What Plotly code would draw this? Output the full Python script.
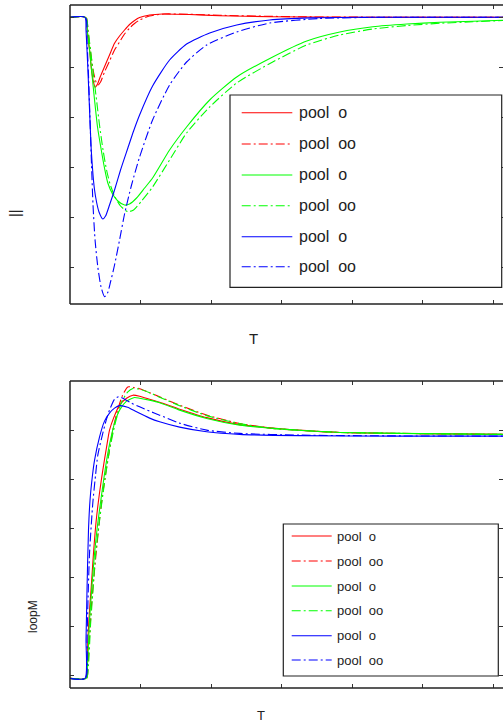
import plotly.graph_objects as go

# ---------------- data ----------------
names = ["pool  o", "pool  oo", "pool  o", "pool  oo", "pool  o", "pool  oo"]
colors = ["#ff0000", "#ff0000", "#00ff00", "#00ff00", "#0000ff", "#0000ff"]
dashes = ["solid", "dashdot", "solid", "dashdot", "solid", "dashdot"]

# top panel ("||")
top_red_o_t = [0, 2.20, 2.48, 2.77, 3.05, 3.33, 3.57, 3.90, 4.33, 4.89, 5.60, 6.31, 7.02, 7.73, 8.44, 9.15, 9.86, 11.28, 13.12, 16.95, 21.21, 28.30, 39.65, 61.35]
top_red_o_v = [0, 0, -0.354, -0.654, -1.054, -1.294, -1.40, -1.334, -1.174, -0.988, -0.754, -0.52, -0.374, -0.254, -0.144, -0.064, -0.004, 0.046, 0.066, 0.056, 0.032, 0.012, 0, 0]

top_red_oo_t = [0, 2.27, 2.55, 2.91, 3.33, 3.69, 3.97, 4.33, 4.89, 5.60, 6.31, 7.02, 7.73, 8.44, 9.15, 9.86, 11.28, 13.40, 16.95, 21.21, 32.55, 46.74, 61.35]
top_red_oo_v = [0, 0, -0.254, -0.694, -1.094, -1.294, -1.354, -1.294, -1.094, -0.874, -0.654, -0.494, -0.334, -0.214, -0.124, -0.054, 0.026, 0.066, 0.06, 0.04, 0.01, 0, 0]

top_green_o_t = [0, 2.20, 2.48, 2.77, 3.12, 3.48, 3.90, 4.43, 4.89, 5.36, 6.03, 6.78, 7.73, 8.44, 9.43, 10.57, 11.70, 14.11, 16.52, 19.79, 23.62, 28.72, 33.55, 38.23, 42.91, 47.73, 52.41, 57.09, 61.35]
top_green_o_v = [0, 0, -0.294, -0.654, -1.154, -1.654, -2.194, -2.654, -3.014, -3.314, -3.534, -3.674, -3.754, -3.734, -3.614, -3.414, -3.214, -2.654, -2.194, -1.654, -1.194, -0.794, -0.474, -0.294, -0.188, -0.134, -0.10, -0.078, -0.058]

top_green_oo_t = [0, 2.27, 2.55, 2.91, 3.33, 3.76, 4.18, 4.68, 5.18, 5.67, 6.31, 7.16, 8.20, 9.01, 10.14, 11.70, 14.11, 16.52, 19.79, 23.62, 28.72, 33.55, 38.23, 42.91, 47.73, 52.41, 57.09, 61.35]
top_green_oo_v = [0, 0, -0.254, -0.654, -1.154, -1.654, -2.154, -2.654, -3.054, -3.334, -3.574, -3.774, -3.888, -3.854, -3.674, -3.394, -2.854, -2.314, -1.794, -1.314, -0.894, -0.554, -0.354, -0.234, -0.164, -0.12, -0.09, -0.064]

top_blue_o_t = [0, 2.13, 2.27, 2.52, 2.77, 3.01, 3.26, 3.48, 3.76, 4.11, 4.65, 5.04, 5.60, 6.31, 7.16, 8.20, 9.01, 9.86, 11.70, 14.11, 16.52, 19.79, 23.62, 28.30, 33.97, 41.06, 61.35]
top_blue_o_v = [0, 0, -0.254, -0.994, -1.854, -2.654, -3.154, -3.454, -3.694, -3.894, -4.034, -3.974, -3.754, -3.454, -3.054, -2.614, -2.274, -1.954, -1.374, -0.854, -0.534, -0.314, -0.154, -0.054, -0.012, 0, 0]

top_blue_oo_t = [0, 2.20, 2.41, 2.62, 2.84, 3.05, 3.26, 3.55, 3.94, 4.40, 4.89, 5.32, 5.74, 6.31, 7.02, 7.73, 8.72, 9.86, 11.70, 14.11, 16.52, 19.36, 23.62, 28.30, 35.39, 43.90, 61.35]
top_blue_oo_v = [0, 0, -0.454, -1.154, -2.054, -2.954, -3.754, -4.454, -4.994, -5.394, -5.588, -5.514, -5.294, -4.954, -4.454, -3.934, -3.354, -2.794, -2.054, -1.354, -0.894, -0.554, -0.294, -0.114, -0.024, 0, 0]

# bottom panel ("loopM")
bot_red_o_t = [0, 2.20, 2.41, 2.55, 2.77, 3.01, 3.33, 3.72, 4.18, 4.65, 5.18, 5.60, 6.17, 7.02, 8.01, 8.91, 9.86, 11.28, 12.70, 15.53, 19.36, 24.04, 28.72, 33.55, 38.23, 49.57, 61.35]
bot_red_o_v = [-0.055, -0.055, 0.224, 0.793, 1.341, 1.809, 2.50, 3.171, 3.720, 4.187, 4.654, 5.0, 5.244, 5.508, 5.650, 5.711, 5.691, 5.630, 5.569, 5.427, 5.254, 5.112, 5.041, 4.990, 4.953, 4.929, 4.913]

bot_red_oo_t = [0, 2.34, 2.55, 2.77, 3.05, 3.48, 4.18, 4.61, 5.13, 5.60, 6.07, 6.74, 7.45, 8.20, 9.15, 9.86, 11.28, 12.70, 15.53, 19.36, 24.04, 28.72, 33.55, 38.23, 49.57, 61.35]
bot_red_oo_v = [-0.055, -0.055, 0.224, 0.793, 1.443, 2.154, 3.171, 3.679, 4.187, 4.593, 5.0, 5.407, 5.711, 5.880, 5.864, 5.843, 5.762, 5.677, 5.508, 5.305, 5.136, 5.035, 4.986, 4.953, 4.929, 4.913]

bot_green_o_t = [0, 2.27, 2.48, 2.77, 3.12, 3.48, 3.90, 4.43, 4.89, 5.36, 5.82, 6.31, 7.02, 8.01, 9.15, 9.86, 11.28, 12.70, 15.53, 19.36, 24.04, 28.72, 33.55, 38.23, 49.57, 61.35]
bot_green_o_v = [-0.055, -0.055, 0.224, 1.138, 1.850, 2.50, 3.069, 3.638, 4.106, 4.533, 4.858, 5.142, 5.407, 5.589, 5.665, 5.650, 5.610, 5.559, 5.407, 5.238, 5.102, 5.035, 4.986, 4.953, 4.929, 4.913]

bot_green_oo_t = [0, 2.34, 2.62, 2.91, 3.26, 3.62, 4.11, 4.61, 5.11, 5.60, 6.45, 7.30, 8.16, 8.91, 9.86, 11.28, 12.70, 15.53, 19.36, 24.04, 28.72, 33.55, 38.23, 49.57, 61.35]
bot_green_oo_v = [-0.055, -0.055, 0.224, 1.037, 1.748, 2.459, 3.069, 3.638, 4.146, 4.593, 5.163, 5.569, 5.772, 5.848, 5.833, 5.762, 5.671, 5.498, 5.295, 5.132, 5.035, 4.986, 4.953, 4.929, 4.913]

bot_blue_o_t = [0, 2.13, 2.27, 2.41, 2.62, 2.84, 3.19, 3.48, 4.18, 4.89, 5.60, 6.31, 7.02, 8.16, 9.43, 11.28, 12.70, 15.53, 19.36, 24.04, 32.55, 46.74, 61.35]
bot_blue_o_v = [-0.055, -0.055, 0.732, 1.748, 2.967, 3.577, 4.085, 4.390, 4.858, 5.183, 5.346, 5.447, 5.498, 5.467, 5.372, 5.244, 5.169, 5.061, 4.966, 4.913, 4.888, 4.878, 4.878]

bot_blue_oo_t = [0, 2.20, 2.41, 2.55, 2.77, 3.23, 3.62, 3.94, 4.65, 5.13, 5.60, 6.31, 6.88, 7.73, 8.72, 9.86, 11.28, 12.70, 15.53, 19.36, 24.04, 32.55, 46.74, 61.35]
bot_blue_oo_v = [-0.055, -0.055, 0.732, 1.545, 2.50, 3.516, 4.085, 4.492, 4.939, 5.203, 5.407, 5.630, 5.681, 5.630, 5.549, 5.474, 5.386, 5.305, 5.142, 5.0, 4.933, 4.898, 4.882, 4.878]

top_series = [(top_red_o_t, top_red_o_v), (top_red_oo_t, top_red_oo_v),
              (top_green_o_t, top_green_o_v), (top_green_oo_t, top_green_oo_v),
              (top_blue_o_t, top_blue_o_v), (top_blue_oo_t, top_blue_oo_v)]
bot_series = [(bot_red_o_t, bot_red_o_v), (bot_red_oo_t, bot_red_oo_v),
              (bot_green_o_t, bot_green_o_v), (bot_green_oo_t, bot_green_oo_v),
              (bot_blue_o_t, bot_blue_o_v), (bot_blue_oo_t, bot_blue_oo_v)]

x_title = "T"
top_y_title = "||"
bot_y_title = "loopM"

# ---------------- layout geometry ----------------
W, H = 503, 724
L, R, T, B = 70, 0, 5, 36
FONT = "Liberation Sans, Arial, sans-serif"
DASHDOT = "9px,3px,2px,3px"


def px_x(px):
    return (px - L) / (W - L - R)


def px_y(py):
    return (H - B - py) / (H - T - B)


fig = go.Figure()

for (t, v), c, d, n in zip(top_series, colors, dashes, names):
    fig.add_trace(go.Scatter(x=t, y=v, mode="lines", name=n, showlegend=False,
                             line=dict(color=c, width=1.1, dash=DASHDOT if d == "dashdot" else "solid",
                                       shape="spline", smoothing=0.6),
                             xaxis="x", yaxis="y"))
for (t, v), c, d, n in zip(bot_series, colors, dashes, names):
    fig.add_trace(go.Scatter(x=t, y=v, mode="lines", name=n, showlegend=False,
                             line=dict(color=c, width=1.1, dash=DASHDOT if d == "dashdot" else "solid",
                                       shape="spline", smoothing=0.6),
                             xaxis="x2", yaxis="y2"))

axis_common = dict(showgrid=False, zeroline=False, showline=False, showticklabels=False,
                   ticks="inside", ticklen=4, tickwidth=1, tickcolor="#333", mirror="ticks")

fig.update_layout(
    width=W, height=H,
    margin=dict(l=L, r=R, t=T, b=B, pad=0),
    paper_bgcolor="white", plot_bgcolor="white",
    showlegend=False,
    xaxis=dict(domain=[0, 1], range=[0, 61.35], tick0=0, dtick=10, anchor="y", **axis_common),
    yaxis=dict(domain=[px_y(304), 1.0], range=[-5.734, 0.246], tick0=0, dtick=1, anchor="x", **axis_common),
    xaxis2=dict(domain=[0, 1], range=[0, 61.35], tick0=0, dtick=10, anchor="y2", **axis_common),
    yaxis2=dict(domain=[0, px_y(381)], range=[-0.25, 6.0], tick0=0, dtick=1, anchor="x2", **axis_common),
)

# frame lines (left, top, bottom) for both panels
frame_col = "#222"
for xa, ya in (("x", "y"), ("x2", "y2")):
    xr, yr = xa + " domain", ya + " domain"
    fig.add_shape(type="line", xref=xr, yref=yr, x0=0, x1=0, y0=0, y1=1, line=dict(color=frame_col, width=1.5))
    fig.add_shape(type="line", xref=xr, yref=yr, x0=0, x1=1, y0=1, y1=1, line=dict(color=frame_col, width=1.5))
    fig.add_shape(type="line", xref=xr, yref=yr, x0=0, x1=1, y0=0, y1=0, line=dict(color=frame_col, width=1.5))


def add_legend(box, rows, line_x, text_x, fsize):
    x0, y0, x1, y1 = box
    fig.add_shape(type="rect", xref="paper", yref="paper",
                  x0=px_x(x0), x1=px_x(x1), y0=px_y(y1), y1=px_y(y0),
                  line=dict(color=frame_col, width=1.2), fillcolor="white", layer="above")
    for ry, c, d, n in zip(rows, colors, dashes, names):
        fig.add_shape(type="line", xref="paper", yref="paper",
                      x0=px_x(line_x[0]), x1=px_x(line_x[1]), y0=px_y(ry), y1=px_y(ry),
                      line=dict(color=c, width=1.1, dash=DASHDOT if d == "dashdot" else "solid"),
                      layer="above")
        fig.add_annotation(xref="paper", yref="paper", x=px_x(text_x), y=px_y(ry),
                           text=n.replace(" ", "\u00a0"), showarrow=False,
                           xanchor="left", yanchor="middle",
                           font=dict(family=FONT, size=fsize, color="#222"))


add_legend((230, 95, 501.7, 287.3), [112.7, 144, 175, 205.7, 236.7, 266.7], (241.7, 292.3), 296.5, 16)
add_legend((283.3, 524, 498.3, 676), [536, 561, 586, 610.7, 635.7, 660], (291.7, 331.7), 335, 13)

# axis titles
fig.add_annotation(xref="paper", yref="paper", x=px_x(253), y=px_y(338), text=x_title, showarrow=False,
                   xanchor="center", yanchor="middle", font=dict(family=FONT, size=15, color="#222"))
fig.add_annotation(xref="paper", yref="paper", x=px_x(261), y=px_y(716), text=x_title, showarrow=False,
                   xanchor="center", yanchor="middle", font=dict(family=FONT, size=13, color="#222"))
fig.add_annotation(xref="paper", yref="paper", x=px_x(15), y=px_y(213), text=top_y_title, showarrow=False,
                   textangle=-90, xanchor="center", yanchor="middle", font=dict(family=FONT, size=14, color="#222"))
fig.add_annotation(xref="paper", yref="paper", x=px_x(33), y=px_y(617), text=bot_y_title, showarrow=False,
                   textangle=-90, xanchor="center", yanchor="middle", font=dict(family=FONT, size=12, color="#222"))

fig.write_html("out.html")
